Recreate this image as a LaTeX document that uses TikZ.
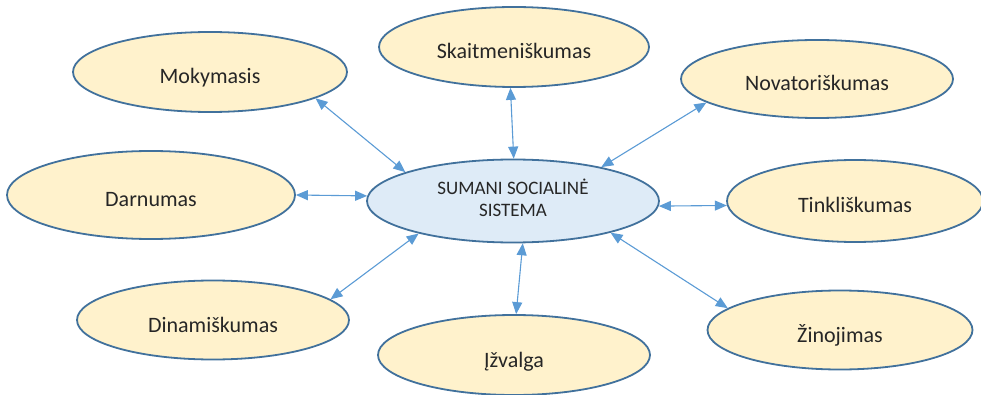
\documentclass[tikz,border=0pt]{standalone}
\usepackage{fontspec}
\setmainfont{Carlito}
\usetikzlibrary{shapes.geometric,arrows.meta}
\definecolor{bord}{HTML}{41719C}
\definecolor{arrc}{HTML}{5B9BD5}
\definecolor{yfill}{HTML}{FFF2CC}
\definecolor{bfill}{HTML}{DEEBF7}
\definecolor{txt}{HTML}{262626}
\tikzset{
  oval/.style={ellipse, draw=bord, line width=1.8pt, fill=yfill, inner sep=0pt,
    text=txt, font=\fontsize{22}{24}\selectfont, text height=24pt, text depth=0pt},
  hub/.style={ellipse, draw=bord, line width=1.8pt, fill=bfill, inner sep=0pt,
    text=txt, font=\fontsize{19}{22.5}\selectfont},
  link/.style={draw=arrc, line width=1.1pt,
    {Triangle[length=12pt,width=10pt]}-{Triangle[length=12pt,width=10pt]}}
}
\begin{document}
\begin{tikzpicture}[x=1pt,y=-1pt]
\useasboundingbox (0,0) rectangle (981,395);
\node[hub, minimum width=292pt, minimum height=83pt] (cen) at (513,201) {\raisebox{-3pt}{\begin{tabular}{@{}c@{}}SUMANI SOCIALINĖ\\SISTEMA\end{tabular}}};
\node[oval, minimum width=274pt, minimum height=80pt] (mok) at (210,72) {Mokymasis};
\node[oval, minimum width=270pt, minimum height=80pt] (ska) at (514,47) {Skaitmeniškumas};
\node[oval, minimum width=272pt, minimum height=78pt] (nov) at (817,79) {Novatoriškumas};
\node[oval, minimum width=288pt, minimum height=88pt] (dar) at (151,195) {Darnumas};
\node[oval, minimum width=256pt, minimum height=82pt] (tin) at (855,201) {Tinkliškumas};
\node[oval, minimum width=272pt, minimum height=79pt] (din) at (213,320) {Dinamiškumas};
\node[oval, minimum width=272pt, minimum height=80pt] (izv) at (514,355) {Įžvalga};
\node[oval, minimum width=265pt, minimum height=79pt] (zin) at (840,330) {Žinojimas};
\draw[link] (mok.-14.3) -- (cen.165.7);
\draw[link] (ska.-95.7) -- (cen.89);
\draw[link] (nov.192.3) -- (cen.21.9);
\draw[link] (dar.-0.8) -- (cen.178.4);
\draw[link] (cen.-2) -- (tin.182.3);
\draw[link] (din.10.5) -- (cen.199.1);
\draw[link] (cen.-77.9) -- (izv.87);
\draw[link] (cen.-18.8) -- (zin.169.6);
\end{tikzpicture}
\end{document}
